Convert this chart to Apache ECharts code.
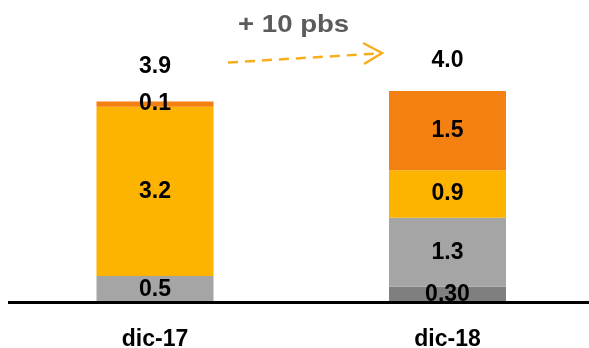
<!DOCTYPE html>
<html>
<head>
<meta charset="utf-8">
<script src="https://cdn.jsdelivr.net/npm/echarts@6/dist/echarts.min.js"></script>
<style>
  html, body { margin: 0; padding: 0; background: #ffffff; }
  #chart { width: 589px; height: 348px; }
</style>
</head>
<body>
<div id="chart"></div>
<script>
// Stacked composition for each period (bottom to top)
const categories = ['dic-17', 'dic-18'];
const darkGreyValues = ['-', 0.30];
const greyValues = [0.5, 1.3];
const amberValues = [3.2, 0.9];
const orangeValues = [0.1, 1.5];
const totalValues = [3.9, 4.0];
const changeText = '+ 10 pbs';

const FONT = 'Liberation Sans, Arial, sans-serif';

function segment(name, values, color, decimals) {
  return {
    name: name,
    type: 'bar',
    stack: 'total',
    barWidth: 117,
    data: values,
    itemStyle: { color: color },
    label: {
      show: true,
      position: 'inside',
      color: '#000000',
      fontFamily: FONT,
      fontWeight: 'bold',
      fontSize: 23,
      formatter: p => Number(p.value).toFixed(decimals)
    },
    emphasis: { disabled: true }
  };
}

const chart = echarts.init(document.getElementById('chart'), null, { renderer: 'canvas' });

const BASE_Y = 302.5;

chart.setOption({
  animation: false,
  backgroundColor: '#ffffff',
  // category centres sit on the grid edges (boundaryGap: false)
  grid: {
    left: 155, right: 141.5, top: 38, bottom: 348 - BASE_Y,
    containLabel: false,
    outerBoundsMode: 'none'
  },
  xAxis: {
    type: 'category',
    data: categories,
    boundaryGap: false,
    axisLine: { show: false },
    axisTick: { show: false },
    axisLabel: {
      color: '#000000',
      fontFamily: FONT,
      fontWeight: 'bold',
      fontSize: 23,
      margin: 26
    }
  },
  yAxis: {
    type: 'value',
    min: 0,
    max: 5,
    show: false,
    splitLine: { show: false }
  },
  series: [
    segment('darkGrey', darkGreyValues, '#7f7f7f', 2),
    segment('grey', greyValues, '#a5a5a5', 1),
    segment('amber', amberValues, '#fdb400', 1),
    segment('orange', orangeValues, '#f58012', 1),
    {
      name: 'total',
      type: 'scatter',
      symbolSize: 0,
      data: totalValues,
      itemStyle: { opacity: 1 },
      label: {
        show: true,
        position: 'inside',
        offset: [0, -30],
        color: '#000000',
        fontFamily: FONT,
        fontWeight: 'bold',
        fontSize: 23,
        formatter: p => Number(p.value).toFixed(1)
      },
      emphasis: { disabled: true },
      z: 6
    }
  ],
  graphic: [
    // baseline across the full width
    {
      type: 'line',
      z: 100,
      shape: { x1: 8, y1: BASE_Y, x2: 589, y2: BASE_Y },
      style: { stroke: '#000000', lineWidth: 3 }
    },
    {
      type: 'text',
      left: 238,
      top: 13,
      style: {
        text: changeText,
        fill: '#5a5b5d',
        font: 'bold 24px ' + FONT
      },
      scaleX: 1.15
    },
    {
      type: 'polyline',
      shape: { points: [[228, 62.5], [378, 53.5]] },
      style: { stroke: '#f7ae1c', lineWidth: 2.5, lineDash: [10, 7], fill: null }
    },
    {
      type: 'polyline',
      shape: { points: [[363, 43], [382, 53], [364, 64]] },
      style: { stroke: '#f7ae1c', lineWidth: 2.5, fill: null }
    }
  ]
});
</script>
</body>
</html>
